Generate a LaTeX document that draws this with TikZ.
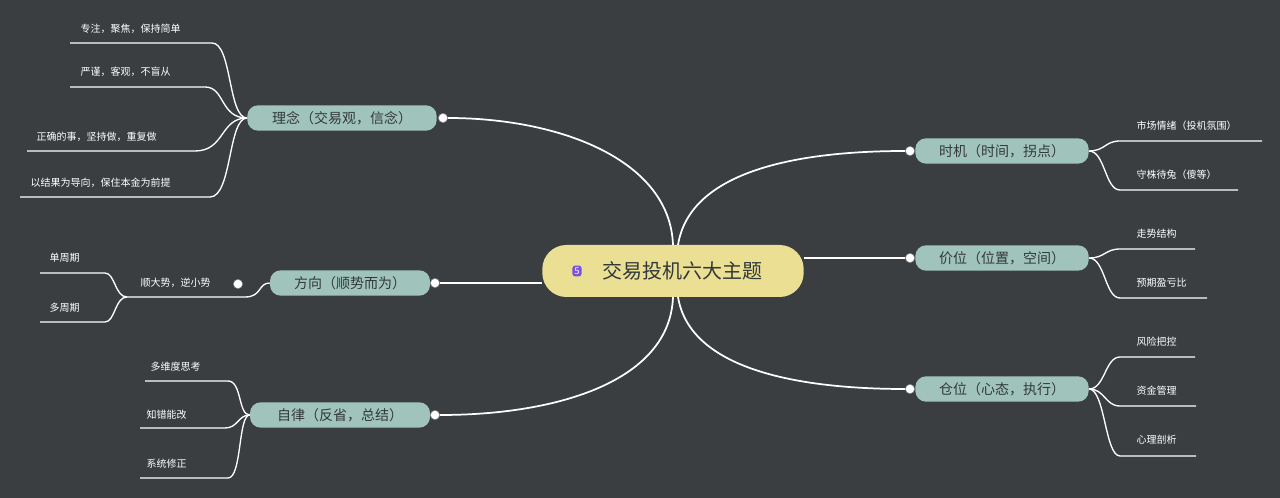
\documentclass[tikz,border=0pt]{standalone}
\usepackage{fontspec}
\setmainfont{Noto Sans CJK SC}
\definecolor{bgdark}{HTML}{3A3E41}
\definecolor{topicfill}{HTML}{A0C4BC}
\definecolor{rootfill}{HTML}{EADF92}
\definecolor{inktext}{HTML}{33383A}
\definecolor{badge}{HTML}{7B4FE0}
\tikzset{
  topic/.style={shape=rectangle, rounded corners=8pt, fill=topicfill, text=inktext, minimum height=19pt, font=\fontsize{10.5}{12}\selectfont},
  leaf/.style={text=white, anchor=west, font=\fontsize{7.5}{9}\selectfont},
  link/.style={draw=white, line width=1.3pt},
  twig/.style={draw=white, line width=1pt},
  knob/.style={circle, fill=white, draw=gray, line width=0.4pt, inner sep=0pt, minimum size=7pt}
}
\begin{document}
\begin{tikzpicture}[x=0.75pt,y=-0.75pt]
  \fill[bgdark] (0,0) rectangle (1280,498);
  \useasboundingbox (0,0) rectangle (1280,498);

  % central topic
  \node (root) [shape=rectangle, rounded corners=18pt, fill=rootfill, text=inktext, minimum width=196pt, minimum height=39pt, font=\fontsize{15}{18}\selectfont] at (673,271) {\hspace{14pt}交易投机六大主题};
  \node (rootbadge) [rounded corners=2pt, fill=badge, text=white, inner sep=1.5pt, font=\fontsize{7}{8}\selectfont] at (577,271) {5};

  % main topics
  \node (idea) [topic, minimum width=142pt] at (342,118) {理念（交易观，信念）};
  \node (trend) [topic, minimum width=120pt] at (350,283) {方向（顺势而为）};
  \node (rule) [topic, minimum width=135pt] at (340,415) {自律（反省，总结）};
  \node (timing) [topic, minimum width=130pt] at (1002,151) {时机（时间，拐点）};
  \node (price) [topic, minimum width=130pt] at (1002,258) {价位（位置，空间）};
  \node (stake) [topic, minimum width=130pt] at (1002,389) {仓位（心态，执行）};

  \node (ideaknob) [knob] at (443,118) {};
  \node (trendknob) [knob] at (435,283) {};
  \node (ruleknob) [knob] at (435,415) {};
  \node (timingknob) [knob] at (910,151) {};
  \node (priceknob) [knob] at (910,258) {};
  \node (stakeknob) [knob] at (910,389) {};

  % root links
  \draw[link] (673,245) .. controls (670,160) and (560,118) .. (ideaknob);
  \draw[link] (root.west) ++(0,12) coordinate (rw) (rw) -- (trendknob);
  \draw[link] (673,297) .. controls (670,380) and (560,415) .. (ruleknob);
  \draw[link] (678,245) .. controls (690,170) and (800,151) .. (timingknob);
  \draw[link] (root.east) ++(0,-13) coordinate (re) (re) -- (priceknob);
  \draw[link] (678,297) .. controls (690,370) and (800,389) .. (stakeknob);

  % idea leaves
  \node (idea1) [leaf] at (76,29) {专注，聚焦，保持简单};
  \node (idea2) [leaf] at (76,72) {严谨，客观，不盲从};
  \node (idea3) [leaf] at (32,137) {正确的事，坚持做，重复做};
  \node (idea4) [leaf] at (26,183) {以结果为导向，保住本金为前提};
  \coordinate (idearoot) at (idea.west);
  \draw[twig] (idearoot) .. controls (228,118) and (232,43) .. (212,43) -- (70,43);
  \draw[twig] (idearoot) .. controls (220,118) and (225,87) .. (205,87) -- (70,87);
  \draw[twig] (idearoot) .. controls (220,118) and (225,151) .. (195,151) -- (27,151);
  \draw[twig] (idearoot) .. controls (228,118) and (232,197) .. (210,197) -- (20,197);

  % trend leaves
  \node (trendmid) [leaf] at (136,283) {顺大势，逆小势};
  \node (trendknob2) [knob] at (238,284) {};
  \node (trend1) [leaf] at (45,258) {单周期};
  \node (trend2) [leaf] at (45,308) {多周期};
  \draw[twig] (trend.west) .. controls (258,283) and (262,297) .. (245,297) -- (127,297);
  \draw[twig] (127,297) .. controls (115,297) and (115,273) .. (105,273) -- (40,273);
  \draw[twig] (127,297) .. controls (115,297) and (115,322) .. (105,322) -- (40,322);

  % rule leaves
  \node (rule1) [leaf] at (146,367) {多维度思考};
  \node (rule2) [leaf] at (142,415) {知错能改};
  \node (rule3) [leaf] at (142,464) {系统修正};
  \draw[twig] (rule.west) .. controls (238,415) and (242,381) .. (228,381) -- (145,381);
  \draw[twig] (rule.west) .. controls (238,415) and (238,428) .. (225,428) -- (140,428);
  \draw[twig] (rule.west) .. controls (238,415) and (242,478) .. (228,478) -- (140,478);

  % timing leaves
  \node (timing1) [leaf] at (1132,126) {市场情绪（投机氛围）};
  \node (timing2) [leaf] at (1132,175) {守株待兔（傻等）};
  \draw[twig] (timing.east) .. controls (1105,151) and (1105,141) .. (1120,141) -- (1262,141);
  \draw[twig] (timing.east) .. controls (1105,151) and (1105,190) .. (1120,190) -- (1238,190);

  % price leaves
  \node (price1) [leaf] at (1132,234) {走势结构};
  \node (price2) [leaf] at (1132,283) {预期盈亏比};
  \draw[twig] (price.east) .. controls (1105,258) and (1105,249) .. (1120,249) -- (1195,249);
  \draw[twig] (price.east) .. controls (1105,258) and (1105,298) .. (1120,298) -- (1207,298);

  % stake leaves
  \node (stake1) [leaf] at (1132,342) {风险把控};
  \node (stake2) [leaf] at (1132,391) {资金管理};
  \node (stake3) [leaf] at (1132,440) {心理剖析};
  \draw[twig] (stake.east) .. controls (1105,389) and (1105,357) .. (1120,357) -- (1195,357);
  \draw[twig] (stake.east) .. controls (1105,389) and (1105,406) .. (1120,406) -- (1196,406);
  \draw[twig] (stake.east) .. controls (1105,389) and (1105,456) .. (1120,456) -- (1196,456);
\end{tikzpicture}
\end{document}
